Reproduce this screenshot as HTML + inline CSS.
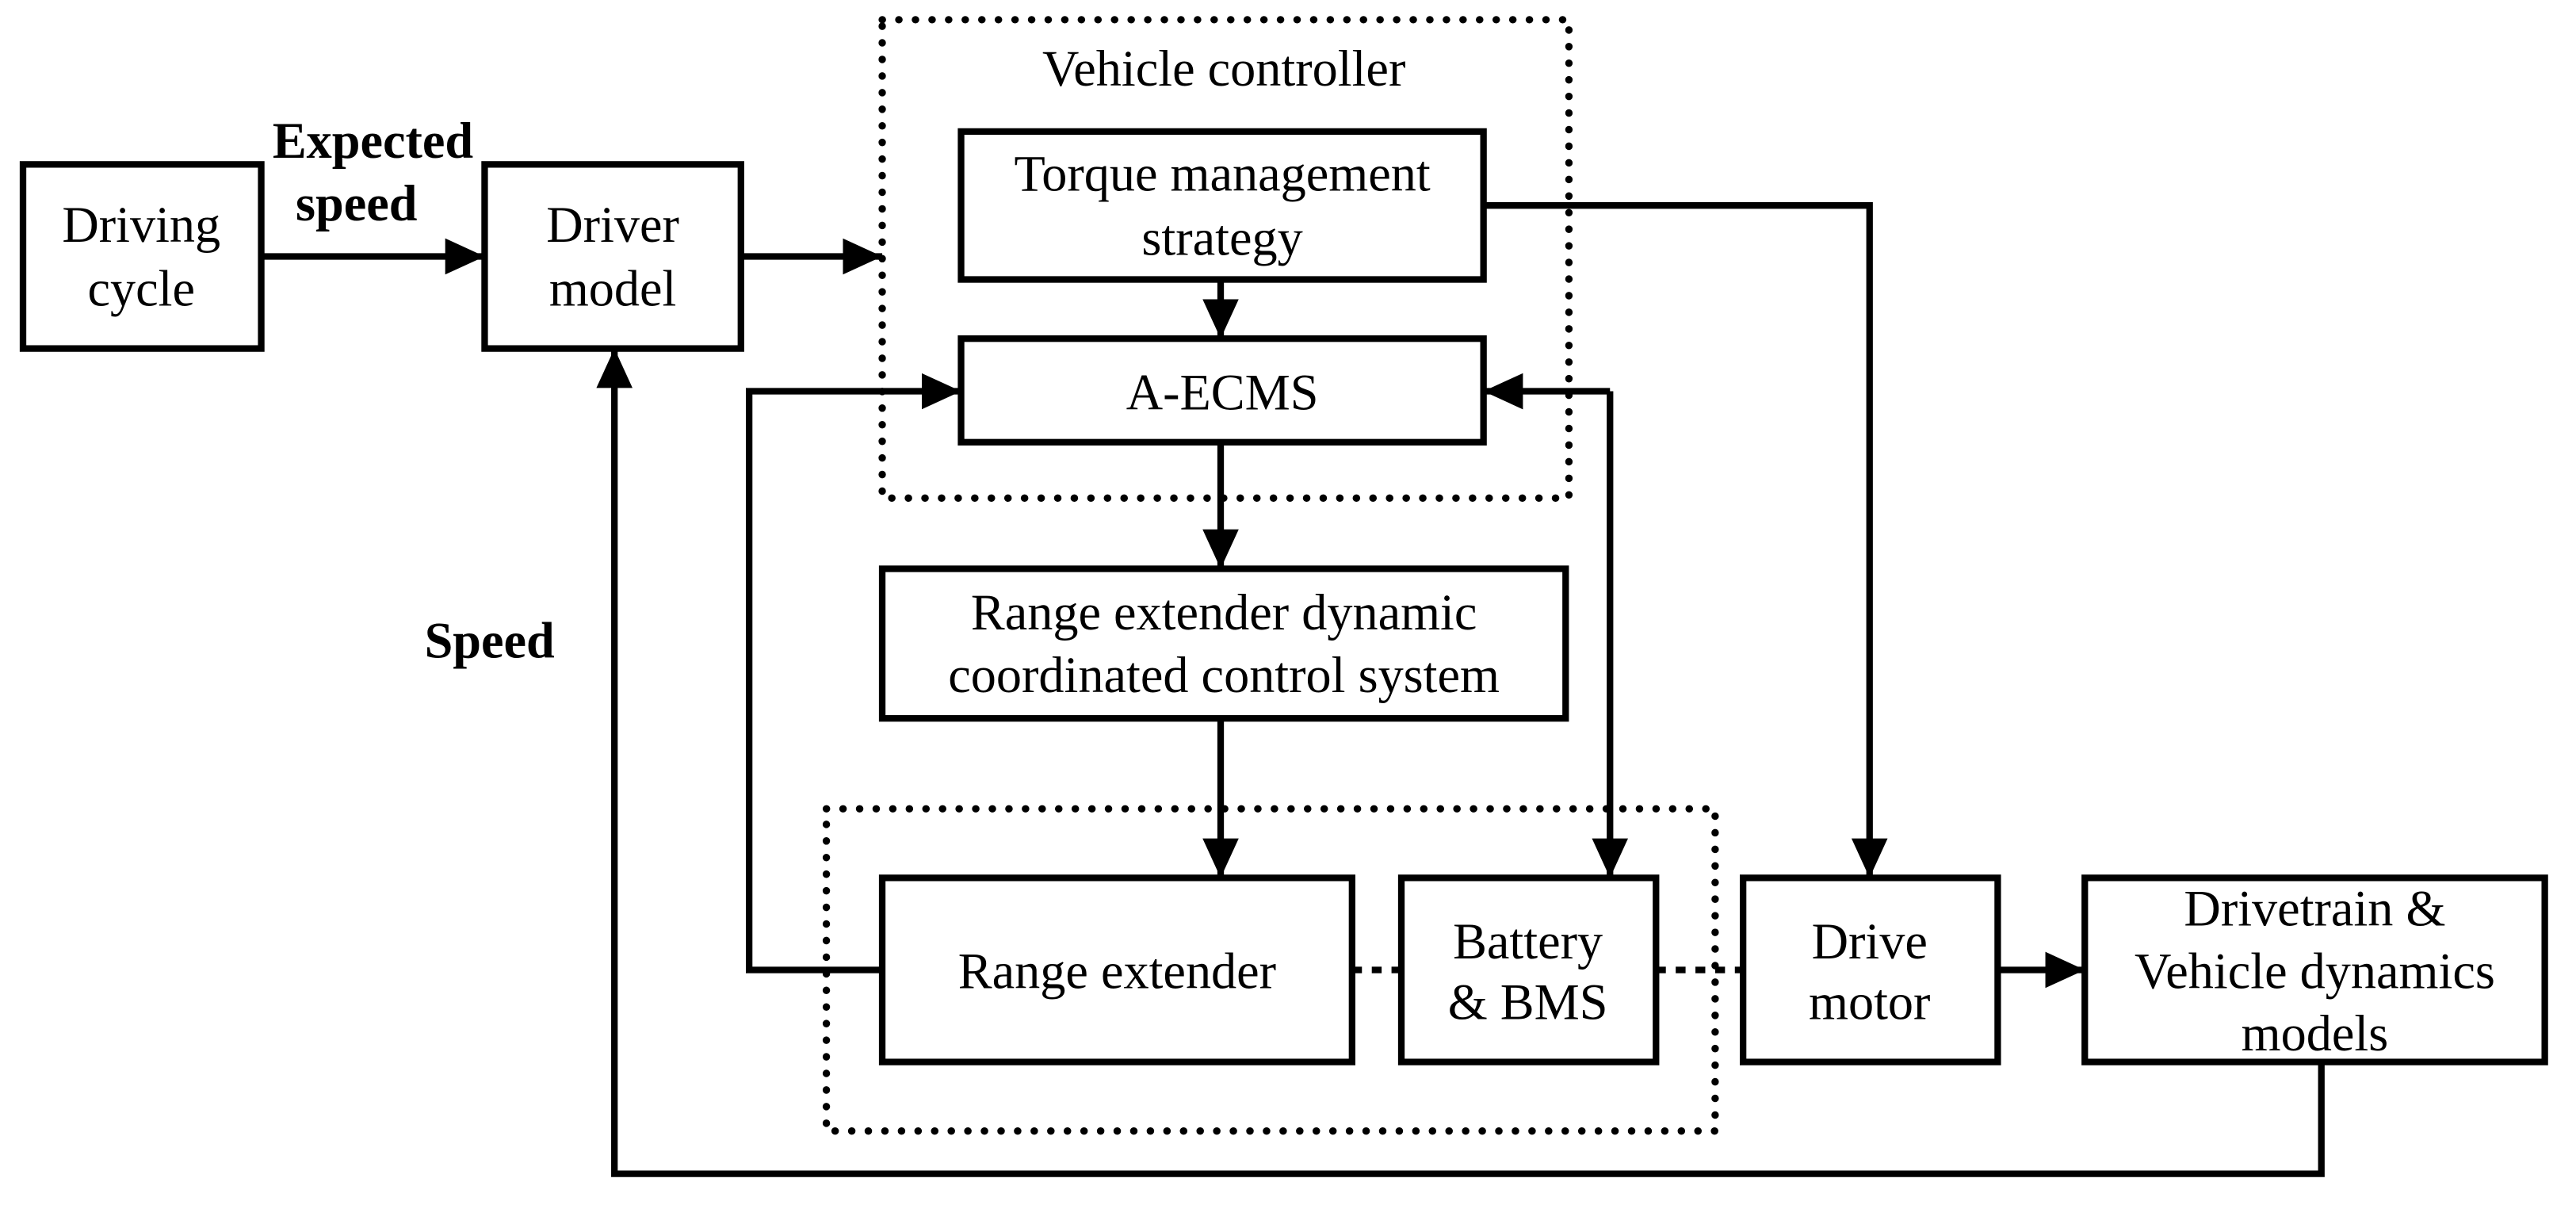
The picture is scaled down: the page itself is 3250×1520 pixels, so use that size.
<!DOCTYPE html>
<html><head><meta charset="utf-8"><style>
html,body{margin:0;padding:0;background:#fff}
svg{display:block}
text{font-family:"Liberation Serif",serif;font-size:31px;fill:#000;text-anchor:middle}
.b{font-weight:bold}
</style></head><body>
<svg width="3250" height="1520" viewBox="0 0 1568 733" preserveAspectRatio="none">
<defs>
<marker id="ah" markerWidth="24" markerHeight="22" refX="24" refY="11" orient="auto" markerUnits="userSpaceOnUse"><path d="M0,0 L24,11 L0,22 z"/></marker></defs>
<g fill="none" stroke="#000" stroke-width="4">
<rect x="14" y="100" width="145" height="112"/>
<rect x="295" y="100" width="156" height="112"/>
<rect x="585" y="80" width="318" height="90"/>
<rect x="585" y="206" width="318" height="63"/>
<rect x="537" y="346" width="416" height="91"/>
<rect x="537" y="534" width="286" height="112"/>
<rect x="853" y="534" width="155" height="112"/>
<rect x="1061" y="534" width="155" height="112"/>
<rect x="1269" y="534" width="280" height="112"/>
</g>
<g fill="none" stroke="#000" stroke-width="4.5" stroke-dasharray="0.1 10" stroke-linecap="round">
<rect x="537" y="12" width="418" height="291"/>
<rect x="503" y="492" width="541" height="196"/>
</g>
<g fill="none" stroke="#000" stroke-width="4" stroke-dasharray="6 6">
<line x1="823" y1="590" x2="853" y2="590"/>
<line x1="1008" y1="590" x2="1061" y2="590"/>
</g>
<g fill="none" stroke="#000" stroke-width="4" marker-end="url(#ah)">
<line x1="159" y1="156" x2="295" y2="156"/>
<line x1="451" y1="156" x2="537" y2="156"/>
<polyline points="903,125 1138,125 1138,534"/>
<line x1="743" y1="170" x2="743" y2="206"/>
<line x1="743" y1="269" x2="743" y2="346"/>
<line x1="743" y1="437" x2="743" y2="534"/>
<polyline points="537,590 456,590 456,238 585,238"/>
<polyline points="980,238 980,534"/>
<line x1="1216" y1="590" x2="1269" y2="590"/>
<polyline points="1413,646 1413,714 374,714 374,212"/>
<line x1="980" y1="238" x2="903" y2="238"/>
</g>
<text x="86" y="147">Driving</text><text x="86" y="186">cycle</text>
<text x="373" y="147">Driver</text><text x="373" y="186">model</text>
<text x="744" y="116">Torque management</text><text x="744" y="155">strategy</text>
<text x="744" y="249">A-ECMS</text>
<text x="745" y="52">Vehicle controller</text>
<text x="745" y="383">Range extender dynamic</text><text x="745" y="421">coordinated control system</text>
<text x="680" y="601">Range extender</text>
<text x="930" y="583">Battery</text><text x="930" y="620">&amp; BMS</text>
<text x="1138" y="583">Drive</text><text x="1138" y="620">motor</text>
<text x="1409" y="563">Drivetrain &amp;</text><text x="1409" y="601">Vehicle dynamics</text><text x="1409" y="639">models</text>
<text class="b" x="227" y="96">Expected</text><text class="b" x="217" y="134">speed</text>
<text class="b" x="298" y="400">Speed</text>
</svg>
</body></html>
